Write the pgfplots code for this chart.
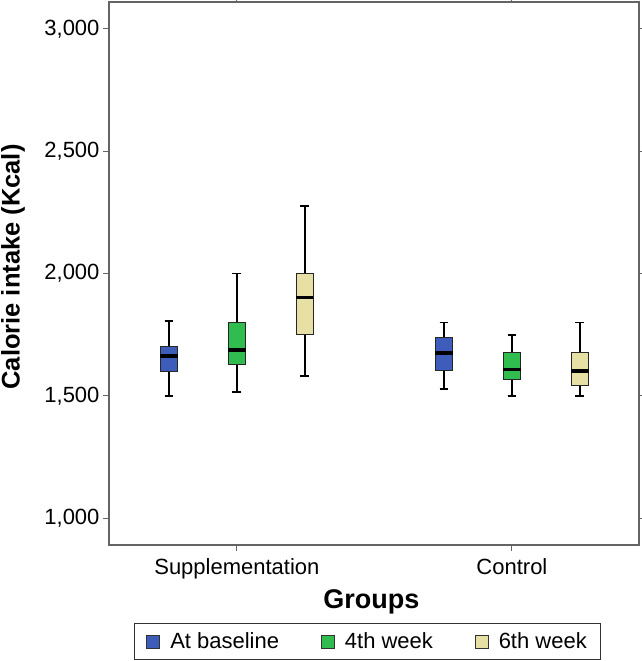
\documentclass[border=0pt]{standalone}
\usepackage{pgfplots}
\pgfplotsset{compat=1.18}
\usepgfplotslibrary{statistics}
\usepackage{fontspec}
\setmainfont{Liberation Sans}
\definecolor{cblue}{RGB}{62,92,186}
\definecolor{cgreen}{RGB}{48,188,78}
\definecolor{cbeige}{RGB}{230,224,164}
\definecolor{frm}{RGB}{100,100,100}
\begin{document}
\begin{tikzpicture}
\begin{axis}[
  scale only axis, width=530pt, height=543pt,
  xmin=-0.465, xmax=1.462, ymin=890, ymax=3110,
  xtick={0,1}, xticklabels={Supplementation,Control},
  ytick={1000,1500,2000,2500,3000},
  minor tick num=0,
  tick align=outside, major tick length=6pt,
  every tick/.style={frm, line width=1pt},
  axis line style={frm, line width=1.5pt},
  tick label style={font=\fontsize{22}{26}\selectfont},
  xticklabel style={yshift=-4pt},
  /pgf/number format/1000 sep={,},
  /pgf/number format/assume math mode=true,
  xlabel={Groups}, ylabel={Calorie intake (Kcal)},
  xlabel style={font=\fontsize{27}{32}\selectfont\bfseries, at={(axis description cs:0.495,-0.105)}, anchor=center},
  ylabel style={font=\fontsize{25.5}{30}\selectfont\bfseries, at={(axis description cs:-0.181,0.512)}, anchor=center},
  boxplot/draw direction=y,
  legend columns=3,
  legend style={at={(axis description cs:0.488,-0.1435)}, anchor=north,
    draw=black!80, line width=1pt, font=\fontsize{22}{26}\selectfont,
    inner xsep=12pt, inner ysep=7.5pt,
    /tikz/every odd column/.append style={column sep=8pt},
    /tikz/every even column/.append style={column sep=40pt}},
]
\coordinate (o) at (rel axis cs:0,0);
% Supplementation
\addplot[forget plot, fill=cblue, draw=black!85, line width=1pt,
  boxplot prepared={draw position=-0.247, lower whisker=1500, lower quartile=1600,
    median=1663, upper quartile=1700, upper whisker=1807,
    box extend=0.063, whisker extend=0.032},
  boxplot/every median/.style={line width=3.2pt, black},
  boxplot/every whisker/.style={line width=1.8pt, black}] coordinates {};
\addplot[forget plot, fill=cgreen, draw=black!85, line width=1pt,
  boxplot prepared={draw position=0, lower whisker=1514, lower quartile=1626,
    median=1687, upper quartile=1800, upper whisker=2000,
    box extend=0.063, whisker extend=0.032},
  boxplot/every median/.style={line width=3.2pt, black},
  boxplot/every whisker/.style={line width=1.8pt, black}] coordinates {};
\addplot[forget plot, fill=cbeige, draw=black!85, line width=1pt,
  boxplot prepared={draw position=0.247, lower whisker=1581, lower quartile=1750,
    median=1903, upper quartile=2000, upper whisker=2277,
    box extend=0.063, whisker extend=0.032},
  boxplot/every median/.style={line width=3.2pt, black},
  boxplot/every whisker/.style={line width=1.8pt, black}] coordinates {};
% Control
\addplot[forget plot, fill=cblue, draw=black!85, line width=1pt,
  boxplot prepared={draw position=0.753, lower whisker=1528, lower quartile=1605,
    median=1675, upper quartile=1739, upper whisker=1800,
    box extend=0.063, whisker extend=0.032},
  boxplot/every median/.style={line width=3.2pt, black},
  boxplot/every whisker/.style={line width=1.8pt, black}] coordinates {};
\addplot[forget plot, fill=cgreen, draw=black!85, line width=1pt,
  boxplot prepared={draw position=1, lower whisker=1500, lower quartile=1567,
    median=1608, upper quartile=1675, upper whisker=1750,
    box extend=0.063, whisker extend=0.032},
  boxplot/every median/.style={line width=3.2pt, black},
  boxplot/every whisker/.style={line width=1.8pt, black}] coordinates {};
\addplot[forget plot, fill=cbeige, draw=black!85, line width=1pt,
  boxplot prepared={draw position=1.247, lower whisker=1500, lower quartile=1541,
    median=1601, upper quartile=1676, upper whisker=1800,
    box extend=0.063, whisker extend=0.032},
  boxplot/every median/.style={line width=3.2pt, black},
  boxplot/every whisker/.style={line width=1.8pt, black}] coordinates {};
\addlegendimage{legend image code/.code={\draw[fill=cblue,draw=black!80,line width=0.8pt] (0pt,-6.5pt) rectangle (13pt,6.5pt);}}
\addlegendentry{At baseline}
\addlegendimage{legend image code/.code={\draw[fill=cgreen,draw=black!80,line width=0.8pt] (0pt,-6.5pt) rectangle (13pt,6.5pt);}}
\addlegendentry{4th week}
\addlegendimage{legend image code/.code={\draw[fill=cbeige,draw=black!80,line width=0.8pt] (0pt,-6.5pt) rectangle (13pt,6.5pt);}}
\addlegendentry{6th week}
\end{axis}
\pgfresetboundingbox
\path[use as bounding box] ([shift={(-109pt,-116pt)}]o) rectangle ++(642pt,661pt);
\end{tikzpicture}
\end{document}
